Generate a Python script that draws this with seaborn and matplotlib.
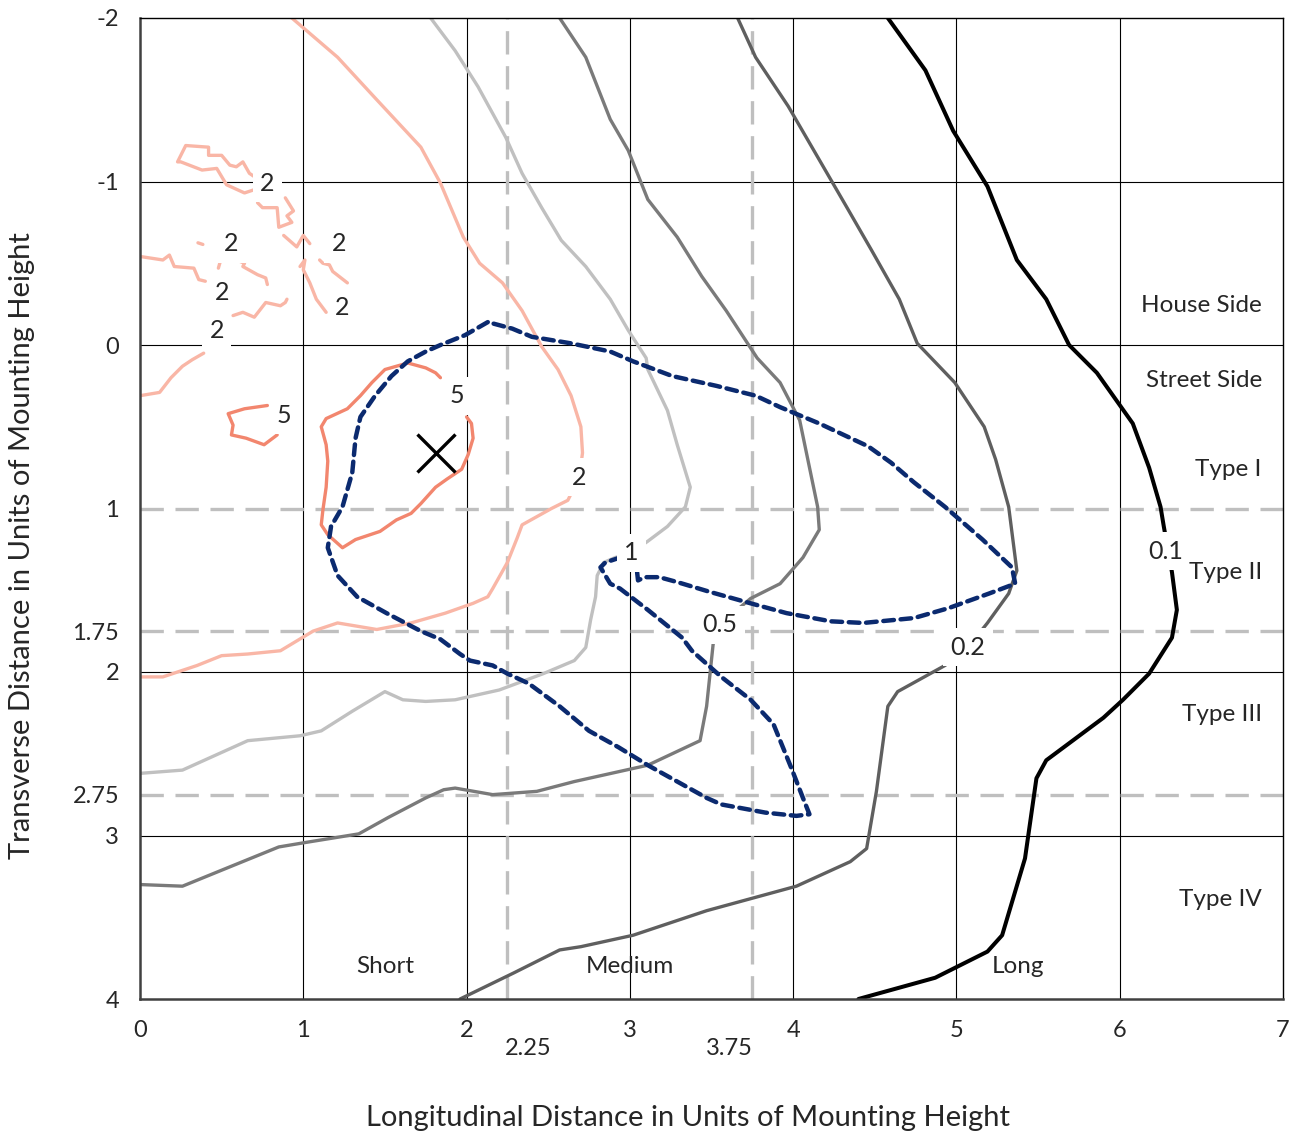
import matplotlib
matplotlib.use('Agg')
import matplotlib.pyplot as plt
import seaborn as sns
import pandas as pd

# isofootcandle lines
# x = longitudinal distance, y = transverse distance (units of mounting height)
fc01_x = [4.58, 4.81, 4.98, 5.19, 5.37, 5.55, 5.69, 5.86, 6.08, 6.18, 6.25, 6.27, 6.32, 6.35,
          6.32, 6.18, 6.02, 5.90, 5.55, 5.49, 5.42, 5.28, 5.19, 4.87, 4.40]
fc01_y = [-2.00, -1.68, -1.31, -0.97, -0.52, -0.28, 0.00, 0.17, 0.48, 0.75, 0.99, 1.11, 1.39, 1.62,
          1.79, 2.01, 2.17, 2.28, 2.54, 2.65, 3.14, 3.61, 3.71, 3.87, 4.00]

fc02_x = [3.66, 3.77, 3.97, 4.15, 4.33, 4.48, 4.65, 4.76, 4.99, 5.17, 5.24, 5.32, 5.37, 5.32,
          5.19, 5.07, 4.93, 4.64, 4.58, 4.51, 4.45, 4.35, 4.02, 3.47, 3.02, 2.70, 2.57, 2.29, 1.96]
fc02_y = [-2.00, -1.76, -1.46, -1.15, -0.84, -0.58, -0.28, -0.01, 0.23, 0.50, 0.70, 0.99, 1.38, 1.52,
          1.70, 1.85, 1.96, 2.12, 2.21, 2.73, 3.08, 3.16, 3.31, 3.46, 3.61, 3.68, 3.70, 3.84, 4.00]

fc05_x = [2.57, 2.73, 2.88, 2.99, 3.11, 3.29, 3.44, 3.59, 3.78, 3.92, 4.04, 4.15, 4.16, 4.06,
          3.92, 3.74, 3.55, 3.51, 3.47, 3.43, 3.11, 2.66, 2.43, 2.16, 1.93, 1.86, 1.75, 1.52,
          1.34, 1.03, 0.85, 0.53, 0.26, 0.00]
fc05_y = [-2.00, -1.76, -1.38, -1.19, -0.89, -0.66, -0.42, -0.21, 0.08, 0.23, 0.46, 0.99, 1.13, 1.30,
          1.46, 1.55, 1.71, 1.83, 2.21, 2.42, 2.57, 2.67, 2.73, 2.75, 2.71, 2.72, 2.77, 2.89,
          2.99, 3.04, 3.07, 3.20, 3.31, 3.30]

fc1_x = [1.78, 1.93, 2.07, 2.24, 2.34, 2.46, 2.58, 2.73, 2.88, 2.99, 3.10, 3.11, 3.23, 3.29,
         3.37, 3.34, 3.23, 3.11, 3.01, 2.91, 2.84, 2.80, 2.79, 2.76, 2.73, 2.66, 2.47, 2.20,
         1.93, 1.75, 1.61, 1.50, 1.30, 1.11, 0.98, 0.66, 0.26, 0.00]
fc1_y = [-2.00, -1.80, -1.58, -1.27, -1.05, -0.84, -0.64, -0.48, -0.28, -0.09, 0.08, 0.15, 0.40, 0.61,
         0.87, 0.99, 1.11, 1.20, 1.27, 1.30, 1.33, 1.41, 1.54, 1.68, 1.85, 1.93, 2.01, 2.11,
         2.17, 2.18, 2.17, 2.12, 2.24, 2.36, 2.39, 2.42, 2.60, 2.62]

fc2_x = [0.93, 1.21, 1.45, 1.72, 1.84, 1.98, 2.08, 2.22, 2.34, 2.46, 2.56, 2.64, 2.70, 2.71,
         2.69, 2.62, 2.52, 2.34, 2.31, 2.25, 2.16, 2.13, 2.04, 1.87, 1.66, 1.45, 1.21, 1.06,
         0.86, 0.66, 0.50, 0.35, 0.14, 0.00]
fc2_y = [-2.00, -1.76, -1.50, -1.21, -0.99, -0.66, -0.50, -0.38, -0.21, 0.01, 0.15, 0.31, 0.50, 0.66,
         0.81, 0.95, 1.00, 1.10, 1.18, 1.33, 1.49, 1.54, 1.58, 1.64, 1.70, 1.74, 1.70, 1.75,
         1.87, 1.89, 1.90, 1.96, 2.03, 2.03]

# little broken 2 fc islands near the pole
isl_a_x = [0.70, 0.67, 0.63, 0.59, 0.55, 0.50, 0.42, 0.42, 0.28, 0.23, 0.25, 0.38, 0.47, 0.53, 0.64, 0.70]
isl_a_y = [-1.03, -1.05, -1.12, -1.09, -1.10, -1.16, -1.16, -1.21, -1.22, -1.12, -1.12, -1.07, -1.08, -0.98, -0.93, -0.95]
isl_b_x = [0.72, 0.75, 0.84, 0.85, 0.93, 0.90, 0.94, 0.89]
isl_b_y = [-0.87, -0.84, -0.84, -0.72, -0.75, -0.79, -0.82, -0.90]
isl_c_x = [0.88, 0.96, 1.00, 1.04]
isl_c_y = [-0.67, -0.60, -0.67, -0.62]
isl_d_x = [0.98, 1.01, 1.00, 1.04, 1.08, 1.14]
isl_d_y = [-0.48, -0.52, -0.46, -0.38, -0.28, -0.20]
isl_e_x = [1.10, 1.12, 1.16, 1.18, 1.27]
isl_e_y = [-0.52, -0.50, -0.49, -0.45, -0.38]
isl_f_x = [0.01, 0.14, 0.18, 0.21, 0.33, 0.36, 0.40]
isl_f_y = [-0.54, -0.52, -0.55, -0.48, -0.47, -0.40, -0.39]
isl_g_x = [0.355, 0.385]
isl_g_y = [-0.625, -0.615]
isl_h_x = [0.48, 0.50, 0.59, 0.64, 0.63, 0.72, 0.77, 0.78]
isl_h_y = [-0.47, -0.54, -0.52, -0.50, -0.48, -0.43, -0.41, -0.37]
isl_i_x = [0.57, 0.63, 0.70, 0.77, 0.86, 0.89, 0.90]
isl_i_y = [-0.18, -0.20, -0.17, -0.26, -0.24, -0.26, -0.28]
isl_j_x = [0.00, 0.12, 0.19, 0.26, 0.32, 0.39]
isl_j_y = [0.31, 0.29, 0.20, 0.13, 0.09, 0.05]

# 5 fc lines
fc5_small_x = [0.78, 0.64, 0.54, 0.57, 0.56, 0.65, 0.76, 0.84]
fc5_small_y = [0.37, 0.39, 0.42, 0.49, 0.55, 0.57, 0.61, 0.55]
fc5_x = [1.84, 1.81, 1.75, 1.64, 1.50, 1.42, 1.35, 1.27, 1.14, 1.11, 1.14, 1.15, 1.14, 1.12,
         1.11, 1.15, 1.24, 1.32, 1.47, 1.57, 1.66, 1.72, 1.81, 1.88, 1.97, 2.01, 2.04, 2.03, 2.00]
fc5_y = [0.20, 0.17, 0.14, 0.11, 0.15, 0.23, 0.31, 0.39, 0.45, 0.50, 0.61, 0.71, 0.87, 1.01,
         1.10, 1.16, 1.24, 1.19, 1.14, 1.07, 1.03, 0.97, 0.87, 0.82, 0.76, 0.67, 0.57, 0.48, 0.44]

# max candela trace (dashed blue)
cand_x = [2.13, 1.99, 1.84, 1.75, 1.64, 1.54, 1.44, 1.35, 1.32, 1.30, 1.24, 1.17, 1.15, 1.21,
          1.33, 1.51, 1.72, 1.84, 1.96, 2.02, 2.16, 2.25, 2.38, 2.57, 2.75, 2.93, 3.11, 3.29,
          3.47, 3.56, 3.83, 4.02, 4.10, 4.06, 3.99, 3.88, 3.74, 3.56, 3.38, 3.32, 3.11, 2.94,
          2.88, 2.82, 2.85, 2.94, 3.04, 3.05, 3.09, 3.18, 3.29, 3.49, 3.74, 3.96, 4.23, 4.43,
          4.74, 4.95, 5.20, 5.36, 5.34, 5.16, 4.93, 4.74, 4.60, 4.46, 4.16, 3.92, 3.77, 3.53,
          3.26, 3.02, 2.88, 2.64, 2.40, 2.28, 2.13]
cand_y = [-0.14, -0.06, 0.00, 0.04, 0.10, 0.19, 0.31, 0.44, 0.57, 0.78, 0.99, 1.11, 1.24, 1.41,
          1.54, 1.64, 1.75, 1.80, 1.89, 1.93, 1.96, 2.01, 2.07, 2.21, 2.36, 2.46, 2.57, 2.67,
          2.77, 2.81, 2.86, 2.88, 2.87, 2.77, 2.59, 2.32, 2.17, 2.03, 1.87, 1.79, 1.62, 1.49,
          1.46, 1.36, 1.33, 1.30, 1.35, 1.44, 1.42, 1.42, 1.45, 1.51, 1.58, 1.64, 1.69, 1.70,
          1.67, 1.61, 1.52, 1.46, 1.36, 1.19, 0.99, 0.84, 0.72, 0.62, 0.48, 0.38, 0.31, 0.25,
          0.19, 0.10, 0.04, -0.01, -0.05, -0.10, -0.14]

# contour labels
lab_text = ['2', '2', '2', '2', '2', '2', '5', '5', '2', '1', '0.5', '0.2', '0.1']
lab_x = [0.78, 0.56, 1.22, 0.50, 1.24, 0.47, 0.88, 1.94, 2.69, 3.01, 3.55, 5.07, 6.28]
lab_y = [-0.99, -0.62, -0.62, -0.32, -0.23, -0.09, 0.43, 0.31, 0.81, 1.27, 1.71, 1.85, 1.26]

# luminaire position
pole_x = [1.81]
pole_y = [0.66]

# classification boundaries
long_bounds = [2.25, 3.75]
trans_bounds = [1, 1.75, 2.75]

side_text = ['House Side', 'Street Side', 'Type I', 'Type II', 'Type III', 'Type IV']
side_y = [-0.24, 0.22, 0.76, 1.39, 2.26, 3.39]
range_text = ['Short', 'Medium', 'Long']
range_x = [1.50, 3.00, 5.38]

xticks = [0, 1, 2, 3, 4, 5, 6, 7]
yticks = [-2, -1, 0, 1, 1.75, 2, 2.75, 3, 4]

sns.set_theme(style='white')
plt.rcParams['font.family'] = ['Lato', 'DejaVu Sans']

fig = plt.figure(figsize=(12.98, 11.34), dpi=100)
ax = fig.add_axes([140 / 1298, 1 - 999 / 1134, 1143 / 1298, 981 / 1134])

# plain grid (y = 1 is covered by the Type I / II boundary)
for gx in xticks[1:-1]:
    ax.axvline(gx, color='black', lw=0.8, zorder=0)
for gy in [-1, 0, 2, 3]:
    ax.axhline(gy, color='black', lw=0.8, zorder=0)

for bx in long_bounds:
    ax.axvline(bx, color='#bfbfbf', lw=2.4, dashes=(7, 3.5), zorder=1)
for by in trans_bounds:
    ax.axhline(by, color='#bfbfbf', lw=2.4, dashes=(7, 3.5), zorder=1)


def trace(xs, ys, color, width):
    df = pd.DataFrame({'x': xs, 'y': ys})
    sns.lineplot(data=df, x='x', y='y', sort=False, estimator=None, color=color, ax=ax)
    line = ax.lines[-1]
    line.set_linewidth(width)
    line.set_zorder(2)
    line.set_solid_joinstyle('round')
    return line


trace(fc01_x, fc01_y, 'black', 2.9)
trace(fc02_x, fc02_y, '#5f5f5f', 2.4)
trace(fc05_x, fc05_y, '#7a7a7a', 2.4)
trace(fc1_x, fc1_y, '#c0c0c0', 2.4)
trace(fc2_x, fc2_y, '#f9b6a6', 2.4)
for xs, ys in [(isl_a_x, isl_a_y), (isl_b_x, isl_b_y), (isl_c_x, isl_c_y), (isl_d_x, isl_d_y),
               (isl_e_x, isl_e_y), (isl_f_x, isl_f_y), (isl_g_x, isl_g_y), (isl_h_x, isl_h_y),
               (isl_i_x, isl_i_y), (isl_j_x, isl_j_y)]:
    trace(xs, ys, '#f9b6a6', 2.4)
trace(fc5_small_x, fc5_small_y, '#f2866e', 2.4)
trace(fc5_x, fc5_y, '#f2866e', 2.4)

cand_line = trace(cand_x, cand_y, '#0b2a6f', 3.2)
cand_line.set_dashes([2.4, 1.5])
cand_line.set_dash_capstyle('round')
cand_line.set_zorder(3)

ax.plot(pole_x, pole_y, marker='x', ms=28, mew=2.4, color='black', ls='none', zorder=4)

for t, lx, ly in zip(lab_text, lab_x, lab_y):
    ax.text(lx, ly, t, fontsize=18, ha='center', va='center', zorder=6,
            bbox=dict(boxstyle='square,pad=0.3', fc='white', ec='none'))

for t, sy in zip(side_text, side_y):
    ax.text(6.87, sy, t, fontsize=17.5, ha='right', va='center', zorder=6)
for t, rx in zip(range_text, range_x):
    ax.text(rx, 3.80, t, fontsize=17.5, ha='center', va='center', zorder=6)

ax.set_xlim(0, 7)
ax.set_ylim(4, -2)
ax.set_xticks(xticks)
ax.set_xticklabels([str(v) for v in xticks], fontsize=17)
ax.set_yticks(yticks)
ax.set_yticklabels([f'{v:g}' for v in yticks], fontsize=17)
ax.tick_params(axis='both', length=0, pad=15)
ax.set_xlabel('')
ax.set_ylabel('')

# the two extra longitudinal limits sit a bit lower under the axis
for bx, off in zip(long_bounds, [0.13, -0.14]):
    ax.text(bx + off, 4.3, f'{bx:g}', fontsize=17, ha='center', va='center')

for side in ['top', 'right']:
    ax.spines[side].set_color('black')
    ax.spines[side].set_linewidth(1.0)
for side in ['left', 'bottom']:
    ax.spines[side].set_color('#404040')
    ax.spines[side].set_linewidth(1.8)

fig.text(688 / 1298, 1 - 1118 / 1134, 'Longitudinal Distance in Units of Mounting Height',
         fontsize=21, ha='center', va='center')
fig.text(22 / 1298, 1 - 546 / 1134, 'Transverse Distance in Units of Mounting Height',
         fontsize=21, ha='center', va='center', rotation=90)

fig.savefig('out.png', dpi=100)
